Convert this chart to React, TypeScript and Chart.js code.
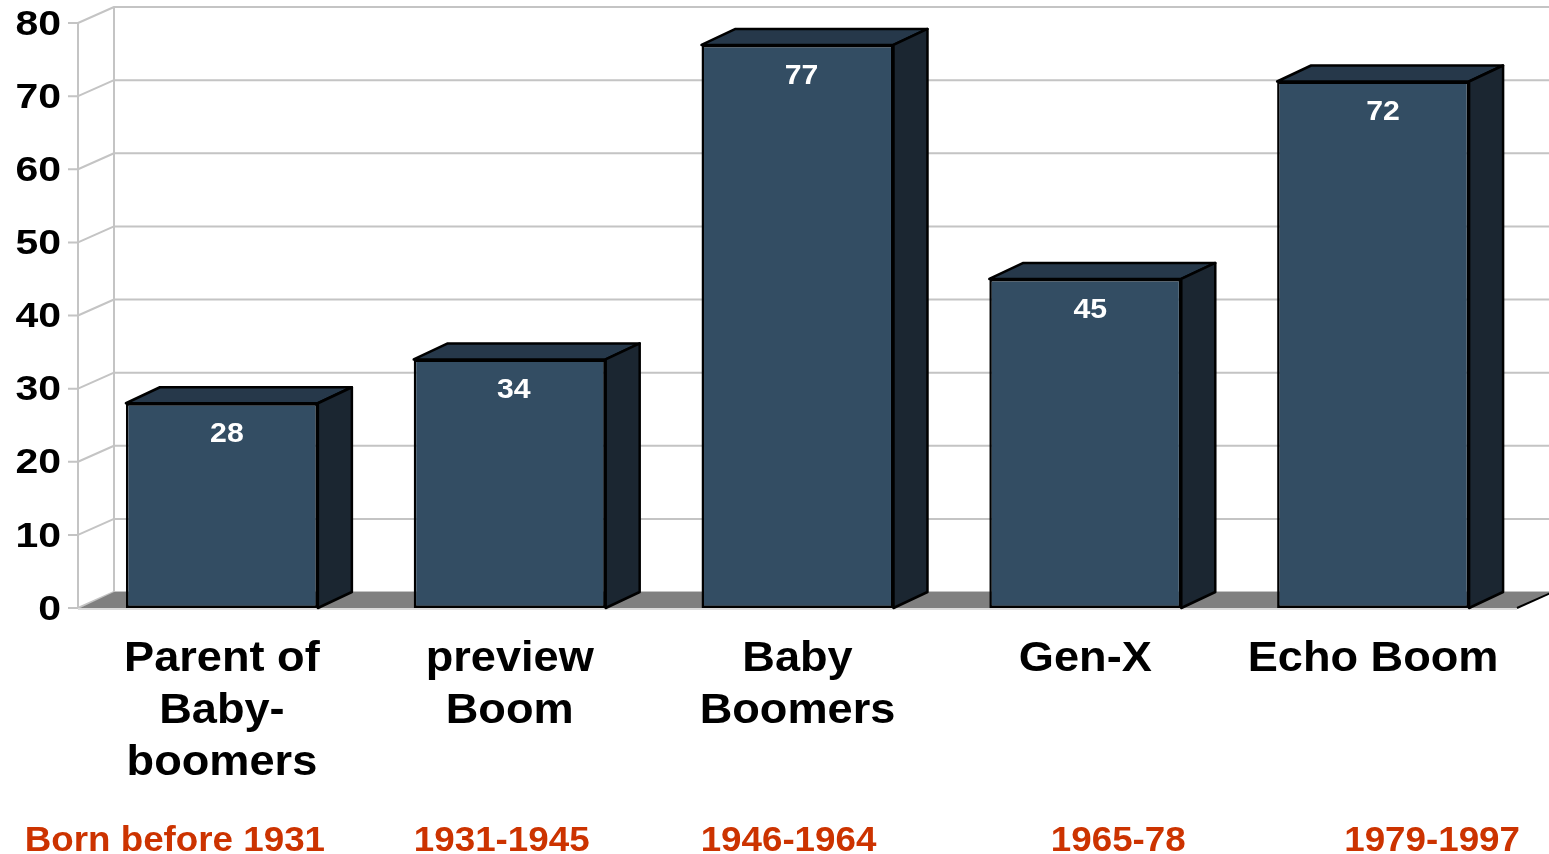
import React, { useEffect, useRef } from "react";
import { Chart, registerables } from "chart.js";
Chart.register(...registerables);

// ---- data ----
const categoryLabels: string[][] = [
  ["Parent of", "Baby-", "boomers"],
  ["preview", "Boom"],
  ["Baby", "Boomers"],
  ["Gen-X"],
  ["Echo Boom"],
];
const birthYears: string[] = ["Born before 1931", "1931-1945", "1946-1964", "1965-78", "1979-1997"];
const values: number[] = [28, 34, 77, 45, 72];
const yTickValues: number[] = [0, 10, 20, 30, 40, 50, 60, 70, 80];

// ---- layout / style ----
const W = 1549;
const H = 854;
const WALL_DX = 36;
const WALL_DY = -16;
const BAR_DX = 34;
const BAR_DY = -16;
const FONT = '"Liberation Sans", Arial, Helvetica, sans-serif';
const yearLabelOffsets: number[] = [-47, -8, -9, 33, 59];
const valueLabelOffsets: number[] = [5, 4, 4, 5, 10];
const FRONT = "#334d63";
const TOP = "#26384a";
const SIDE = "#1b2631";

function scaledText(ctx: CanvasRenderingContext2D, text: string, x: number, y: number, sx: number, align: CanvasTextAlign) {
  ctx.save();
  ctx.translate(x, y);
  ctx.scale(sx, 1);
  ctx.textAlign = align;
  ctx.fillText(text, 0, 0);
  ctx.restore();
}

const threeD = {
  id: "threeD",
  beforeDatasetsDraw(chart: any) {
    const ctx: CanvasRenderingContext2D = chart.ctx;
    const ys = chart.scales.y;
    const area = chart.chartArea;
    ctx.save();
    ctx.lineCap = "butt";
    ctx.lineJoin = "round";
    // back wall grid + diagonal side wall lines + front ticks
    ctx.strokeStyle = "#c4c4c4";
    ctx.lineWidth = 2;
    for (const v of yTickValues) {
      const py = ys.getPixelForValue(v);
      ctx.beginPath();
      ctx.moveTo(area.left - 10, py);
      ctx.lineTo(area.left, py);
      ctx.lineTo(area.left + WALL_DX, py + WALL_DY);
      ctx.lineTo(W, py + WALL_DY);
      ctx.stroke();
    }
    ctx.beginPath();
    ctx.moveTo(area.left, ys.getPixelForValue(80));
    ctx.lineTo(area.left, ys.getPixelForValue(0));
    ctx.moveTo(area.left + WALL_DX, ys.getPixelForValue(80) + WALL_DY);
    ctx.lineTo(area.left + WALL_DX, ys.getPixelForValue(0) + WALL_DY);
    ctx.stroke();

    // floor
    const by = ys.getPixelForValue(0);
    ctx.fillStyle = "#808080";
    ctx.beginPath();
    ctx.moveTo(area.left + 2, by);
    ctx.lineTo(area.left + WALL_DX, by + WALL_DY);
    ctx.lineTo(area.right + WALL_DX, by + WALL_DY);
    ctx.lineTo(area.right, by);
    ctx.closePath();
    ctx.fill();
    ctx.strokeStyle = "#000";
    ctx.lineWidth = 2;
    ctx.beginPath();
    ctx.moveTo(area.right, by);
    ctx.lineTo(area.right + WALL_DX, by + WALL_DY);
    ctx.stroke();
    ctx.strokeStyle = "#dcdcdc";
    ctx.lineWidth = 2;
    ctx.beginPath();
    ctx.moveTo(area.left, by + 1);
    ctx.lineTo(area.right, by + 1);
    ctx.stroke();

    // bar top and side faces
    const meta = chart.getDatasetMeta(0);
    ctx.strokeStyle = "#000";
    ctx.lineWidth = 2.5;
    for (const el of meta.data) {
      const p = el.getProps(["x", "y", "base", "width"], true);
      const l = p.x - p.width / 2;
      const r = p.x + p.width / 2;
      const t = p.y;
      const b = p.base;
      ctx.fillStyle = TOP;
      ctx.beginPath();
      ctx.moveTo(l, t);
      ctx.lineTo(l + BAR_DX, t + BAR_DY);
      ctx.lineTo(r + BAR_DX, t + BAR_DY);
      ctx.lineTo(r, t);
      ctx.closePath();
      ctx.fill();
      ctx.stroke();
      ctx.fillStyle = SIDE;
      ctx.beginPath();
      ctx.moveTo(r, t);
      ctx.lineTo(r + BAR_DX, t + BAR_DY);
      ctx.lineTo(r + BAR_DX, b + BAR_DY);
      ctx.lineTo(r, b);
      ctx.closePath();
      ctx.fill();
      ctx.stroke();
    }
    ctx.restore();
  },
  afterDatasetsDraw(chart: any) {
    const ctx: CanvasRenderingContext2D = chart.ctx;
    const meta = chart.getDatasetMeta(0);
    ctx.save();
    ctx.fillStyle = "#ffffff";
    ctx.font = `bold 28px ${FONT}`;
    ctx.textBaseline = "middle";
    meta.data.forEach((el: any, i: number) => {
      const p = el.getProps(["x", "y"], true);
      scaledText(ctx, String(values[i]), p.x + valueLabelOffsets[i], p.y + 31, 1.08, "center");
    });
    ctx.restore();
  },
  afterDraw(chart: any) {
    const ctx: CanvasRenderingContext2D = chart.ctx;
    const ys = chart.scales.y;
    const xs = chart.scales.x;
    const area = chart.chartArea;
    ctx.save();
    // y tick labels
    ctx.fillStyle = "#000";
    ctx.font = `bold 35px ${FONT}`;
    ctx.textBaseline = "middle";
    for (const v of yTickValues) {
      scaledText(ctx, String(v), area.left - 17, ys.getPixelForValue(v) + 2, 1.17, "right");
    }
    // category labels
    ctx.font = `bold 43px ${FONT}`;
    ctx.textBaseline = "alphabetic";
    categoryLabels.forEach((lines, i) => {
      const cx = xs.getPixelForValue(i);
      lines.forEach((line, j) => {
        scaledText(ctx, line, cx, 671 + j * 52, 1.05, "center");
      });
    });
    // birth years
    ctx.fillStyle = "#cc3300";
    ctx.font = `bold 35px ${FONT}`;
    birthYears.forEach((t, i) => {
      const cx = xs.getPixelForValue(i) + yearLabelOffsets[i];
      scaledText(ctx, t, cx, 851, 1.05, "center");
    });
    ctx.restore();
  },
};

export default function App() {
  const ref = useRef<HTMLCanvasElement | null>(null);
  useEffect(() => {
    if (!ref.current) return;
    const chart = new Chart(ref.current, {
      type: "bar",
      data: {
        labels: categoryLabels.map((l) => l.join(" ")),
        datasets: [
          {
            data: values,
            backgroundColor: FRONT,
            borderColor: "#000000",
            borderWidth: 2.5,
            borderSkipped: false,
            barPercentage: 0.667,
            categoryPercentage: 1,
          },
        ],
      },
      options: {
        responsive: false,
        animation: false,
        devicePixelRatio: 1,
        layout: { padding: { left: 78, right: 32, top: 23, bottom: 246 } },
        scales: {
          x: { display: false, offset: true, grid: { display: false } },
          y: { display: false, min: 0, max: 80, grid: { display: false } },
        },
        plugins: { legend: { display: false }, tooltip: { enabled: false } },
      },
      plugins: [threeD],
    });
    return () => chart.destroy();
  }, []);
  return (
    <div style={{ position: "fixed", left: 0, top: 0, width: W, height: H, background: "#fff" }}>
      <canvas ref={ref} width={W} height={H} style={{ width: W, height: H, display: "block" }} />
    </div>
  );
}
